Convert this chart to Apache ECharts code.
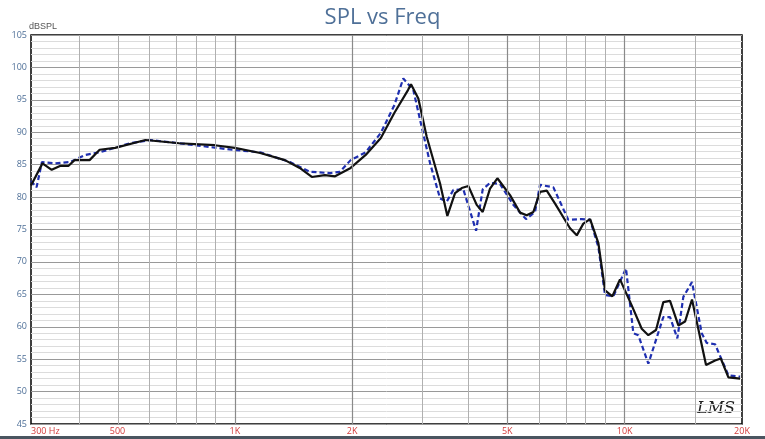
<!DOCTYPE html>
<html><head><meta charset="utf-8">
<script src="https://cdn.jsdelivr.net/npm/echarts@6/dist/echarts.min.js"></script>
<style>html,body{margin:0;padding:0;background:#fff}#c{width:765px;height:439px}</style>
</head><body><div id="c"></div>
<script>
const blackFreq=[300,321,339,356,374,388,424,450,493,590,720,888,1000,1162,1344,1467,1576,1702,1808,1982,2166,2369,2567,2781,2831,2956,3106,3361,3509,3672,3820,3972,4173,4324,4515,4715,5081,5391,5607,5832,6066,6312,6630,7242,7536,7836,8154,8562,8907,9300,9729,10425,11061,11502,12036,12567,13074,13731,14286,14886,16173,17061,17646,18456,19776];
const blackDb=[81.8,85.2,84.2,84.8,84.8,85.7,85.7,87.3,87.6,88.8,88.3,88.0,87.6,86.8,85.7,84.5,83.1,83.4,83.2,84.5,86.5,89.1,93.0,96.5,97.4,95.2,89.3,82.1,77.1,80.6,81.4,81.7,78.8,77.7,81.3,82.9,80.3,77.6,77.2,77.7,80.8,81.0,79.0,75.2,74.1,75.9,76.6,72.9,65.6,64.7,67.3,63.3,59.7,58.7,59.5,63.8,64.0,60.2,60.8,64.2,54.1,54.8,55.1,52.2,52.0];
const blueFreq=[300,310,320,346,378,413,450,538,606,720,984,1162,1385,1559,1754,1861,1982,2166,2369,2567,2705,2870,3016,3169,3361,3496,3635,3856,4158,4324,4515,4791,5181,5585,5889,6066,6564,7167,7761,8154,8562,8907,9354,10080,10527,10842,11502,12567,13074,13650,14142,14886,15765,16239,17061,18456,19776];
const blueDb=[82.5,81.5,85.4,85.2,85.4,86.5,86.9,88.3,88.8,88.3,87.3,86.9,85.4,83.9,83.7,83.9,85.7,86.9,89.9,94.2,98.3,96.5,90.8,85.2,79.8,79.3,81.1,81.2,74.8,81.2,82.2,82.0,78.8,76.6,77.7,81.9,81.5,76.5,76.6,76.5,72.3,64.9,64.7,69.0,59.0,58.7,54.3,61.5,61.5,58.2,64.6,66.9,59.0,57.5,57.3,52.5,52.3];
const xLabels=[300,500,1000,2000,5000,10000,20000];
const gridMajor=[1000,2000,5000,10000];
const gridMinor=[400,500,600,700,800,900,3000,4000,6000,7000,8000,9000,15000];
const L=Math.log10;
const fmt=v=>v>=1000?(v/1000)+'K':(v===300?'300 Hz':String(v));
const ml=gridMajor.map(f=>({xAxis:L(f),lineStyle:{color:'#8a8a8a',width:1.2,type:'solid'}}))
 .concat(gridMinor.map(f=>({xAxis:L(f),lineStyle:{color:'#b0b0b0',width:1,type:'solid'}})));
const chart=echarts.init(document.getElementById('c'));
chart.setOption({
 animation:false,
 title:{text:'SPL vs Freq',left:'center',top:2,textStyle:{fontFamily:'Open Sans',fontSize:22,fontWeight:'normal',color:'#4f7098'}},
 grid:{left:31,right:23,top:35,bottom:15,show:true,borderColor:'#000',borderWidth:1.5},
 xAxis:{type:'value',min:L(300),max:L(20000),
  axisLine:{show:false},axisTick:{show:false},splitLine:{show:false},
  axisLabel:{customValues:xLabels.map(L),formatter:v=>fmt(Math.round(Math.pow(10,v))),color:'#d23a3a',fontSize:9,margin:3,fontFamily:'Open Sans',
   alignMinLabel:'left',alignMaxLabel:'center'}},
 yAxis:{type:'value',min:45,max:105,interval:5,name:'dBSPL',nameGap:3,nameTextStyle:{color:'#555',fontSize:9,align:'left',padding:[0,0,0,-2]},
  axisLine:{show:false},axisTick:{show:false},
  axisLabel:{color:'#4f7098',fontSize:9,margin:4,fontFamily:'Open Sans'},
  splitLine:{lineStyle:{color:'#999',width:1}},
  minorTick:{show:false,splitNumber:5},minorSplitLine:{show:true,lineStyle:{color:'#dcdcdc',width:1}}},
 graphic:[{type:'text',right:30,bottom:22,style:{text:'LMS',font:'italic 16px "DejaVu Serif"',fill:'#222'}},
  {type:'rect',left:0,bottom:0,shape:{width:765,height:3},style:{fill:'#4a5560'}}],
 series:[
  {type:'line',data:[],markLine:{silent:true,symbol:'none',label:{show:false},data:ml}},
  {type:'line',data:blueFreq.map((f,i)=>[L(f),blueDb[i]]),showSymbol:false,lineStyle:{color:'#1f2fb0',width:2.2,type:[5,3]},z:3},
  {type:'line',data:blackFreq.map((f,i)=>[L(f),blackDb[i]]),showSymbol:false,lineStyle:{color:'#111',width:2.2},z:4}
 ]
});
</script></body></html>
